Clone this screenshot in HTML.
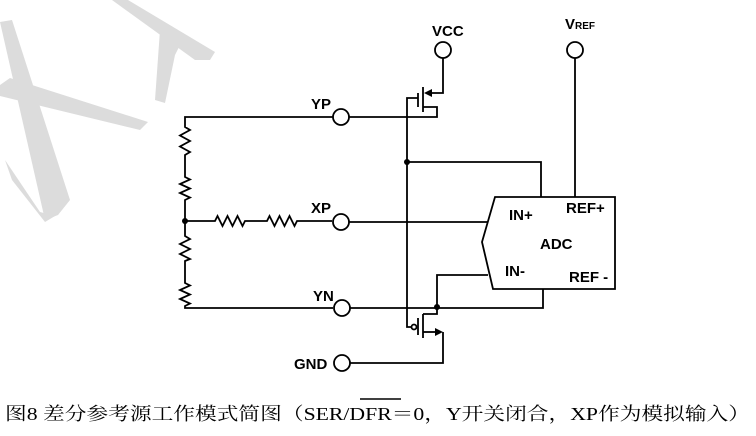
<!DOCTYPE html>
<html><head><meta charset="utf-8"><style>
html,body{margin:0;padding:0;background:#fff;}
svg{display:block;}
.l{fill:none;stroke:#000;stroke-width:1.8;}
.t{font-family:"Liberation Sans",Arial,sans-serif;font-weight:bold;font-size:15px;fill:#000;}
</style></head><body>
<svg width="756" height="436" viewBox="0 0 756 436" xmlns="http://www.w3.org/2000/svg">
<g fill="#dcdcdc">
<polygon points="0,22 12,20 70,200 58,215 45,220"/>
<polygon points="0,85 10,78 148,122 140,130 0,96"/>
<polygon points="5,160 40,212 55,216 45,222 12,180"/>
<polygon points="112,0 128,0 215,52 210,60 195,60"/>
<polygon points="160,30 180,45 175,55 165,103 155,100"/>
</g>
<path class="l" d="M333,117 H185 V127 l5,3 l-10,5.5 l10,5.5 l-10,5.5 l10,5.5 l-5,3 V177 l5,2.5 l-10,4.5 l10,4.5 l-10,4.5 l10,4.5 l-5,2.5 V236 l5,3 l-10,5 l10,5 l-10,5 l10,5 l-5,2 V283 l5,2.5 l-10,4.5 l10,4.5 l-10,4.5 l10,4.5 l-5,2.5 V308 H333"/>
<path class="l" d="M185,221 H215 l2.5,-5 l5,10 l5,-10 l5,10 l5,-10 l5,10 l2.5,-5 H267 l2.5,-5 l5,10 l5,-10 l5,10 l5,-10 l5,10 l2.5,-5 H332"/>
<circle cx="185" cy="221" r="3" fill="#000"/>
<g class="l">
<circle cx="341" cy="117" r="8"/>
<circle cx="341" cy="222" r="8"/>
<circle cx="342" cy="308" r="8"/>
<circle cx="342" cy="363" r="8"/>
<circle cx="443" cy="50" r="8"/>
<circle cx="575" cy="50" r="8"/>
</g>
<text class="t" x="311" y="109">YP</text>
<text class="t" x="311" y="213">XP</text>
<text class="t" x="313" y="301">YN</text>
<text class="t" x="294" y="369">GND</text>
<text class="t" x="432" y="36">VCC</text>
<text class="t" x="565" y="29">V<tspan font-size="10">REF</tspan></text>
<path class="l" d="M349,117 H437 V107 H423"/>
<path class="l" d="M423,87 V112"/>
<path class="l" d="M418,93 V107"/>
<path class="l" d="M418,98 H407 V327 H411"/>
<path class="l" d="M443,58 V93 H427"/>
<polygon points="424,93 432,89 432,97" fill="#000"/>
<circle cx="407" cy="162" r="3" fill="#000"/>
<path class="l" d="M407,162 H541 V197"/>
<path class="l" d="M575,58 V197"/>
<path class="l" d="M495,197 H615 V289 H493 L482,242 Z"/>
<text class="t" x="509" y="220">IN+</text>
<text class="t" x="566" y="213">REF+</text>
<text class="t" x="540" y="249">ADC</text>
<text class="t" x="505" y="276">IN-</text>
<text class="t" x="569" y="282">REF -</text>
<path class="l" d="M349,222 H488"/>
<path class="l" d="M488,275 H437 V314 H423"/>
<circle cx="437" cy="307" r="3" fill="#000"/>
<path class="l" d="M350,308 H543 V289"/>
<path class="l" d="M423,314 V338"/>
<path class="l" d="M418,318 V335"/>
<circle cx="414" cy="327" r="2.5" class="l"/>
<path class="l" d="M423,332 H438"/>
<polygon points="443,332 435,328 435,336" fill="#000"/>
<path class="l" d="M443,332 V363 H350"/>
<text x="5" y="420" font-family="'Liberation Serif','Noto Serif CJK SC',serif" font-size="18" textLength="745" lengthAdjust="spacingAndGlyphs">图8 差分参考源工作模式简图（SER/DFR＝0，Y开关闭合，XP作为模拟输入）</text>
<line x1="360" y1="399" x2="401" y2="399" stroke="#000" stroke-width="1.5"/>
</svg>
</body></html>
